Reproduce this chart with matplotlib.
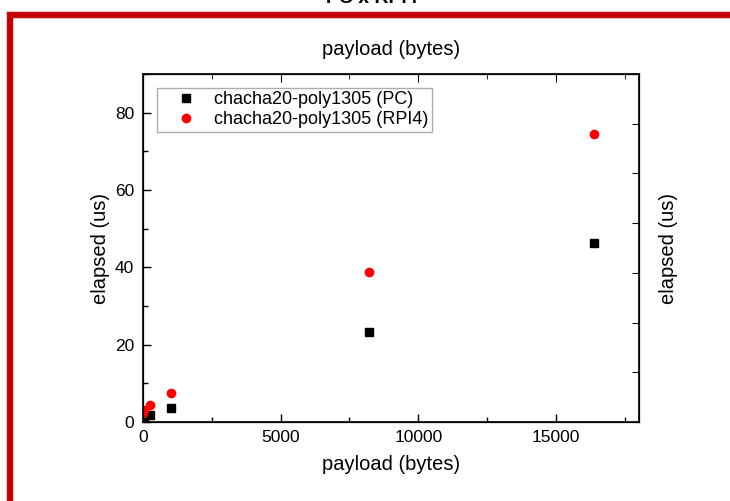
import matplotlib
matplotlib.use("Agg")
import matplotlib.pyplot as plt
from matplotlib.patches import Rectangle
from matplotlib.ticker import MultipleLocator, NullFormatter

plt.rcParams['font.family'] = ['Liberation Sans', 'DejaVu Sans']

# ── Data ──────────────────────────────────────────────────────────────────
payload = [16, 64, 256, 1024, 8192, 16384]
elapsed_pc = [0.5, 0.9, 1.8, 3.7, 23.4, 46.4]
elapsed_rpi4 = [2.3, 3.0, 4.4, 7.6, 38.7, 74.6]
labels = ["chacha20-poly1305 (PC)", "chacha20-poly1305 (RPI4)"]

W, H = 730, 501
fig = plt.figure(figsize=(W / 100, H / 100), dpi=100)

# red slide frame
fig.patches.append(Rectangle((10.3 / W, -0.2), 1.5, 1.2 - 15 / H,
                             transform=fig.transFigure, fill=False,
                             edgecolor="#f0b0b0", linewidth=5.5, zorder=0))
fig.patches.append(Rectangle((10.3 / W, -0.2), 1.5, 1.2 - 15 / H,
                             transform=fig.transFigure, fill=False,
                             edgecolor="#c00000", linewidth=4.2, zorder=1))
# slide title, mostly cut off by the top edge
fig.text(372 / W, 1 - 3 / H, "PC x RPi4", ha="center", va="baseline",
         fontsize=14, fontweight="bold")

ax = fig.add_axes([142.7 / W, 1 - 422 / H, (639 - 142.7) / W, (422 - 74) / H])

ax.plot(payload, elapsed_pc, "s", color="black", ms=6, label=labels[0], zorder=3)
ax.plot(payload, elapsed_rpi4, "o", color="red", ms=7, mec="none",
        label=labels[1], zorder=3)

ax.set_xlim(0, 18000)
ax.set_ylim(0, 90)
ax.xaxis.set_major_locator(MultipleLocator(5000))
ax.xaxis.set_minor_locator(MultipleLocator(2500))
ax.yaxis.set_major_locator(MultipleLocator(20))
ax.yaxis.set_minor_locator(MultipleLocator(10))
ax.tick_params(which="both", direction="in", labelsize=12.5, width=1)
ax.tick_params(axis="x", pad=6)
ax.tick_params(axis="y", pad=6)
ax.tick_params(which="major", length=6)
ax.tick_params(which="minor", length=3.5)
ax.set_xlabel("payload (bytes)", fontsize=14.5, labelpad=7)
ax.set_ylabel("elapsed (us)", fontsize=14.5, labelpad=4)
for s in ax.spines.values():
    s.set_linewidth(1.2)

leg = ax.legend(loc="upper left", bbox_to_anchor=(0.029, 0.961), fontsize=13,
                frameon=True, fancybox=False, edgecolor="#999999",
                handletextpad=0.15, borderpad=0.2, labelspacing=0.15,
                handlelength=2.8, borderaxespad=0)
leg.get_frame().set_linewidth(1.0)

# top axis (ticks only, label)
axt = ax.twiny()
axt.set_xlim(0, 18000)
axt.xaxis.set_major_locator(MultipleLocator(5000))
axt.xaxis.set_minor_locator(MultipleLocator(2500))
axt.xaxis.set_major_formatter(NullFormatter())
axt.tick_params(which="both", direction="in")
axt.tick_params(which="major", length=6)
axt.tick_params(which="minor", length=3.5)
axt.set_xlabel("payload (bytes)", fontsize=14.5, labelpad=10)

# right axis (ticks only, label)
axr = ax.twinx()
axr.set_ylim(0, 7)
axr.yaxis.set_major_locator(MultipleLocator(1))
axr.yaxis.set_major_formatter(NullFormatter())
axr.tick_params(which="both", direction="in", length=5)
axr.set_ylabel("elapsed (us)", fontsize=14.5, labelpad=11)

fig.savefig("out.png", dpi=100)
